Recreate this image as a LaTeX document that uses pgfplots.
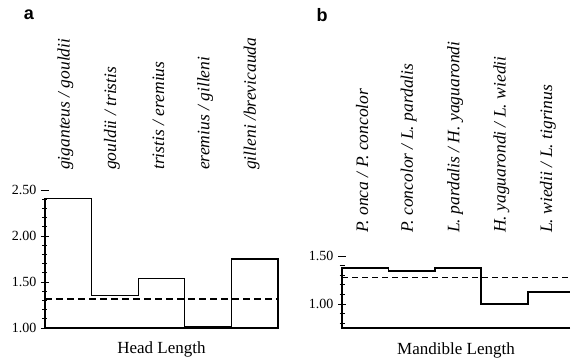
\documentclass[border=0pt]{standalone}
\usepackage{pgfplots}
\pgfplotsset{compat=1.18}
\usepackage{fontspec}
\setmainfont{Liberation Serif}
\newfontfamily\sansb{Liberation Sans}
\begin{document}
\begin{tikzpicture}
\useasboundingbox (0,0) rectangle (571pt,363pt);
\pgfplotsset{
  myax/.style={
    scale only axis, anchor=south west,
    axis line style={draw=none},
    xtick=\empty, xmin=0, ytick pos=left,
    tick style={black, line width=0.6pt},
    tick align=center,
    major tick length=8pt, minor tick length=5pt,
    yticklabel style={font=\fontsize{14}{16}\selectfont, xshift=-1pt},
    /pgf/number format/assume math mode=true,
    /pgf/number format/fixed, /pgf/number format/fixed zerofill, /pgf/number format/precision=2,
  },
}
\tikzset{lab/.style={rotate=90, anchor=west, font=\fontsize{17.5}{19}\selectfont\itshape, inner sep=0pt}}
% Panel a
\begin{axis}[myax, at={(45pt,35pt)}, width=233pt, height=138pt,
  xmax=5, ymin=1, ymax=2.5, clip=false,
  ytick={1,1.5,2,2.5}, minor ytick={1.1,1.2,1.3,1.4,1.6,1.7,1.8,1.9,2.1,2.2,2.3,2.4}]
\addplot[const plot, black, line width=1.3pt, line join=miter] coordinates {(0,1.0)(0,2.41)(1,1.35)(2,1.54)(3,1.02)(4,1.75)(5,1.75)(5,1.0)(0,1.0)};
\addplot[black, line width=1.3pt, dash pattern=on 7pt off 4pt] coordinates {(0,1.315)(5,1.315)};
\node[xshift=-3pt, yshift=20pt, lab] at (axis cs:0.5,2.5) {giganteus / gouldii};
\node[xshift=-3pt, yshift=20pt, lab] at (axis cs:1.5,2.5) {gouldii / tristis};
\node[xshift=-3pt, yshift=20pt, lab] at (axis cs:2.5,2.5) {tristis / eremius};
\node[xshift=-3pt, yshift=20pt, lab] at (axis cs:3.5,2.5) {eremius / gilleni};
\node[xshift=-3pt, yshift=20pt, lab] at (axis cs:4.5,2.5) {gilleni /brevicauda};
\node[anchor=base, font=\fontsize{17}{19}\selectfont] at (rel axis cs:0.5,0) [yshift=-26pt] {Head Length};
\end{axis}
\node[font=\sansb\bfseries\fontsize{18}{20}\selectfont] at (29pt,348pt) {a};
% Panel b
\begin{axis}[myax, at={(342pt,35pt)}, width=228pt, height=72pt,
  xmax=4.91, ymin=0.75, ymax=1.5, clip=false,
  ytick={1,1.5}, minor ytick={0.8,0.9,1.1,1.2,1.3,1.4}]
\addplot[const plot, black, line width=1.8pt, line join=miter] coordinates {(4.91,0.75)(0,0.75)(0,1.375)(1,1.34)(2,1.375)(3,1.0)(4,1.125)(4.91,1.125)};
\addplot[black, line width=0.7pt, dash pattern=on 6pt off 4pt] coordinates {(0,1.28)(4.91,1.28)};
\node[xshift=-3pt, yshift=23pt, lab] at (axis cs:0.5,1.5) {P. onca / P. concolor};
\node[xshift=-3pt, yshift=23pt, lab] at (axis cs:1.5,1.5) {P. concolor / L. pardalis};
\node[xshift=-3pt, yshift=23pt, lab] at (axis cs:2.5,1.5) {L. pardalis / H. yaguarondi};
\node[xshift=-3pt, yshift=23pt, lab] at (axis cs:3.5,1.5) {H. yaguarondi / L. wiedii};
\node[xshift=-3pt, yshift=23pt, lab] at (axis cs:4.5,1.5) {L. wiedii / L. tigrinus};
\node[anchor=base, font=\fontsize{17}{19}\selectfont] at (rel axis cs:0.5,0) [yshift=-27pt] {Mandible Length};
\end{axis}
\node[font=\sansb\bfseries\fontsize{18}{20}\selectfont] at (322pt,348pt) {b};
\end{tikzpicture}
\end{document}
